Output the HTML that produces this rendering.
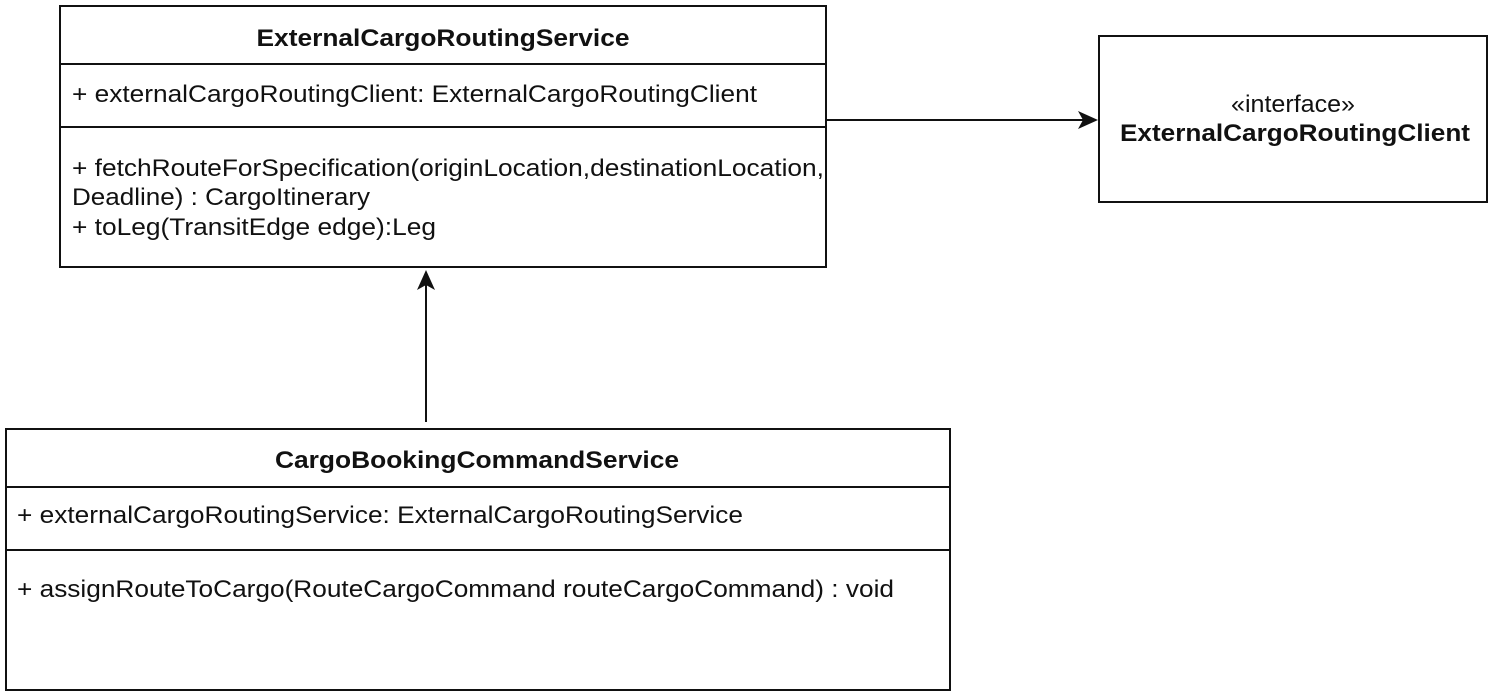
<!DOCTYPE html>
<html><head><meta charset="utf-8"><style>
html,body{margin:0;padding:0;background:#fff;}
svg{display:block;}
text{font-family:"Liberation Sans",Arial,sans-serif;fill:#111;font-size:24px;}
.b{font-weight:bold;}
</style></head><body>
<svg width="1500" height="698" viewBox="0 0 1500 698" xmlns="http://www.w3.org/2000/svg">
<g fill="none" stroke="#111" stroke-width="2">
<rect x="60" y="6" width="766" height="261"/>
<line x1="60" y1="64" x2="826" y2="64"/>
<line x1="60" y1="127" x2="826" y2="127"/>
<rect x="6" y="429" width="944" height="261"/>
<line x1="6" y1="487" x2="950" y2="487"/>
<line x1="6" y1="550" x2="950" y2="550"/>
<rect x="1099" y="36" width="388" height="166"/>
<line x1="826" y1="120" x2="1088" y2="120"/>
<line x1="426" y1="422" x2="426" y2="282"/>
</g>
<polygon points="1098,120 1078,111 1083,120 1078,129" fill="#111"/>
<polygon points="426,270 417,290 426,285 435,290" fill="#111"/>
<g lengthAdjust="spacingAndGlyphs">
<text class="b" x="443" y="46" text-anchor="middle" textLength="373" lengthAdjust="spacingAndGlyphs">ExternalCargoRoutingService</text>
<text x="72" y="102" textLength="685" lengthAdjust="spacingAndGlyphs">+ externalCargoRoutingClient: ExternalCargoRoutingClient</text>
<text x="72" y="176" textLength="752" lengthAdjust="spacingAndGlyphs">+ fetchRouteForSpecification(originLocation,destinationLocation,</text>
<text x="72" y="205" textLength="298" lengthAdjust="spacingAndGlyphs">Deadline) : CargoItinerary</text>
<text x="72" y="235" textLength="364" lengthAdjust="spacingAndGlyphs">+ toLeg(TransitEdge edge):Leg</text>
<text class="b" x="477" y="468" text-anchor="middle" textLength="404" lengthAdjust="spacingAndGlyphs">CargoBookingCommandService</text>
<text x="17" y="523" textLength="726" lengthAdjust="spacingAndGlyphs">+ externalCargoRoutingService: ExternalCargoRoutingService</text>
<text x="17" y="597" textLength="877" lengthAdjust="spacingAndGlyphs">+ assignRouteToCargo(RouteCargoCommand routeCargoCommand) : void</text>
<text x="1293" y="112" text-anchor="middle" textLength="124" lengthAdjust="spacingAndGlyphs">«interface»</text>
<text class="b" x="1295" y="141" text-anchor="middle" textLength="350" lengthAdjust="spacingAndGlyphs">ExternalCargoRoutingClient</text>
</g>
</svg>
</body></html>
